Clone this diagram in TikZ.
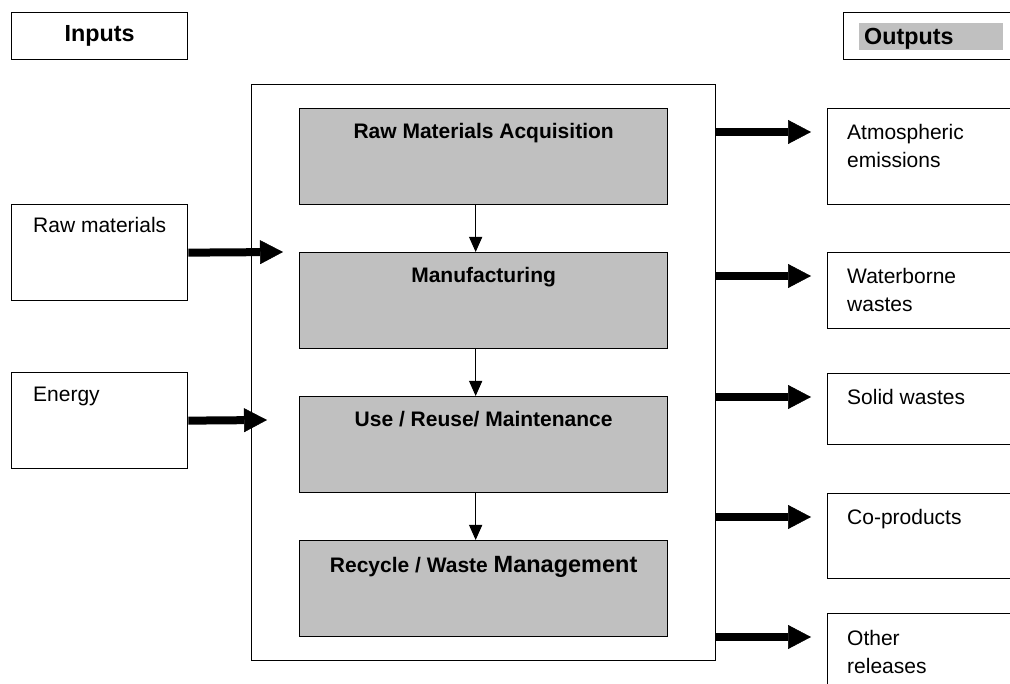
\documentclass[tikz,border=0pt]{standalone}
\usepackage{fontspec}
\setmainfont{Liberation Sans}
\usetikzlibrary{arrows.meta}
\definecolor{silver}{RGB}{192,192,192}

\begin{document}
\begin{tikzpicture}[x=1pt, y=-1pt,
    box/.style={draw, line width=1.3pt, inner sep=0, anchor=north west},
    stage/.style={box, fill=silver, minimum width=368pt, minimum height=96pt},
    plain/.style={inner sep=0, anchor=base west, font=\fontsize{21}{28}\selectfont},
    stagetext/.style={inner sep=0, anchor=base, font=\fontsize{21}{28}\selectfont\bfseries},
    hdr/.style={font=\fontsize{23.3}{28}\selectfont\bfseries},
    flow/.style={line width=8pt, -{Triangle[length=23pt, width=24pt, line width=0.5pt]}},
    link/.style={line width=1.3pt, -{Triangle[length=15pt, width=13pt]}}]
  \clip (0,0) rectangle (1010,684);

  \node[box, hdr, minimum width=176pt, minimum height=47pt] (inputs) at (11,12) {Inputs};
  \node[box, minimum width=200pt, minimum height=47pt] (outputs) at (843,12) {};
  \node[anchor=north west, fill=silver, minimum width=144pt, minimum height=27pt] (outhl) at (859,23) {};
  \node[hdr, inner sep=0, anchor=base west] (outtxt) at (864,45) {Outputs};

  \node[box, minimum width=464pt, minimum height=576pt] (system) at (251,84) {};
  \node[stage] (rma) at (299,108) {};
  \node[stage] (mfg) at (299,252) {};
  \node[stage] (use) at (299,396) {};
  \node[stage] (rwm) at (299,540) {};
  \node[stagetext] (rmatxt) at ([yshift=-31pt]rma.north) {Raw Materials Acquisition};
  \node[stagetext] (mfgtxt) at ([yshift=-31pt]mfg.north) {Manufacturing};
  \node[stagetext] (usetxt) at ([yshift=-31pt]use.north) {Use / Reuse/ Maintenance};
  \node[stagetext] (rwmtxt) at ([yshift=-32pt]rwm.north) {Recycle / Waste {\fontsize{23.5}{28}\selectfont Management}};
  \draw[link] ([xshift=-8pt]rma.south) -- ([xshift=-8pt]mfg.north);
  \draw[link] ([xshift=-8pt]mfg.south) -- ([xshift=-8pt]use.north);
  \draw[link] ([xshift=-8pt]use.south) -- ([xshift=-8pt]rwm.north);

  \node[box, minimum width=176pt, minimum height=96pt] (rawin) at (11,204) {};
  \node[box, minimum width=176pt, minimum height=96pt] (energyin) at (11,372) {};
  \node[plain] (rawtxt) at (33,233) {Raw materials};
  \node[plain] (energytxt) at (33,402) {Energy};
  \coordinate (rawtip) at (283,252);
  \coordinate (energytip) at (267,420);
  \draw[flow] (rawin.east) -- (rawtip);
  \draw[flow] (energyin.east) -- (energytip);

  \foreach \n/\t/\h/\txt in {atm/108/96/{Atmospheric\\emissions}, water/252/76/{Waterborne\\wastes},
      solid/373/71/{Solid wastes}, coprod/493/85/{Co-products}, other/613/100/{Other\\releases}} {
    \node[box, minimum width=200pt, minimum height=\h pt] (\n) at (827,\t) {};
    \node[plain] (\n txt) at (847,\t+32) {\begin{tabular}[t]{@{}l@{}}\txt\end{tabular}};
    \coordinate (t\n) at ([xshift=-16pt, yshift=-24pt]\n.north west);
    \draw[flow] (system.east |- t\n) -- (t\n);
  };
\end{tikzpicture}
\end{document}
